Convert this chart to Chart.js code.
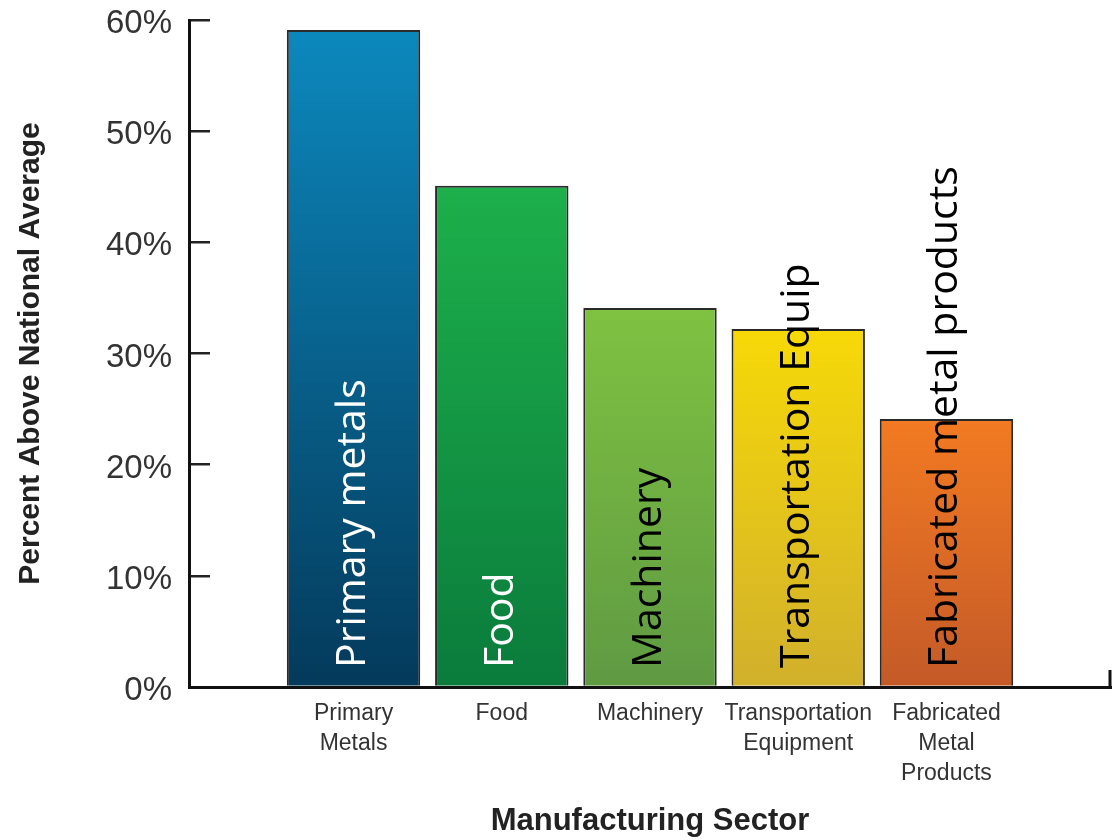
<!DOCTYPE html>
<html lang="en">
<head>
  <meta charset="UTF-8" />
  <title>Manufacturing Sector</title>
  <script src="https://cdn.jsdelivr.net/npm/chart.js"></script>
  <style>
    body {
      margin: 0;
      background: #fff;
    }
    canvas {
      display: block;
    }
  </style>
</head>
<body>

  <canvas id="sectorBar" width="1116" height="840"></canvas>

  <script>
    // data
    const sectors = [
      ['Primary', 'Metals'],
      ['Food'],
      ['Machinery'],
      ['Transportation', 'Equipment'],
      ['Fabricated', 'Metal', 'Products']
    ];
    const percentAbove = [59.1, 45.1, 34.1, 32.2, 24.1];
    const barLabels = ['Primary metals', 'Food', 'Machinery', 'Transportation Equip', 'Fabricated metal products'];
    const barLabelColors = ['#ffffff', '#ffffff', '#000000', '#000000', '#000000'];
    const topColors = ['#0c88bd', '#1db04b', '#7fc241', '#f7d908', '#f27a22'];
    const bottomColors = ['#043a5b', '#0a7b3c', '#5f9a43', '#d1b02c', '#c45a28'];
    const yTicks = [0, 10, 20, 30, 40, 50, 60];

    // vertical gradient per bar, from its top down to zero
    function barFill(ctx) {
      const chart = ctx.chart;
      const y = chart.scales.y;
      if (!y || !chart.chartArea) return topColors[ctx.dataIndex];
      const top = y.getPixelForValue(percentAbove[ctx.dataIndex]);
      const bottom = y.getPixelForValue(0);
      const g = chart.ctx.createLinearGradient(0, top, 0, bottom);
      g.addColorStop(0, topColors[ctx.dataIndex]);
      g.addColorStop(1, bottomColors[ctx.dataIndex]);
      return g;
    }

    // big rotated labels written over the bars
    const barText = {
      id: 'barText',
      afterDatasetsDraw(chart) {
        const c = chart.ctx;
        const meta = chart.getDatasetMeta(0);
        c.save();
        c.font = '41px "Open Sans", sans-serif';
        c.textAlign = 'left';
        c.textBaseline = 'alphabetic';
        meta.data.forEach((bar, i) => {
          c.save();
          c.translate(bar.x + 11, chart.chartArea.bottom - 19);
          c.rotate(-Math.PI / 2);
          c.fillStyle = barLabelColors[i];
          c.fillText(barLabels[i], 0, 0);
          c.restore();
        });
        c.restore();
      }
    };

    // small upward tick closing the x axis on the right
    const axisEnd = {
      id: 'axisEnd',
      afterDraw(chart) {
        const x = chart.scales.x;
        const c = chart.ctx;
        c.save();
        c.strokeStyle = '#111';
        c.lineWidth = 3;
        c.beginPath();
        c.moveTo(x.right - 1, x.top);
        c.lineTo(x.right - 1, x.top - 17);
        c.stroke();
        c.restore();
      }
    };

    new Chart(document.getElementById('sectorBar'), {
      type: 'bar',
      data: {
        datasets: [{
          data: percentAbove.map((v, i) => ({ x: i + 1, y: v })),
          backgroundColor: barFill,
          borderColor: '#2a2a2a',
          borderWidth: 2,
          categoryPercentage: 0.9,
          barPercentage: 1
        }]
      },
      plugins: [barText, axisEnd],
      options: {
        responsive: false,
        animation: false,
        layout: { padding: { top: 20, right: 5, left: 0, bottom: 0 } },
        plugins: {
          legend: { display: false },
          tooltip: { enabled: false }
        },
        scales: {
          x: {
            type: 'linear',
            offset: false,
            min: 1 - 1.11,
            max: sectors.length + 1.11,
            afterFit(scale) {
              scale.height = 153;
              scale.paddingLeft = 0;
              scale.paddingRight = 0;
            },
            grid: { display: false, drawTicks: false, offset: false },
            border: { display: true, color: '#111', width: 3 },
            ticks: {
              stepSize: 1,
              includeBounds: false,
              autoSkip: false,
              maxRotation: 0,
              padding: 12,
              color: '#333',
              font: { family: '"Liberation Sans", Arial, sans-serif', size: 23, lineHeight: 1.3 },
              callback: v => (Number.isInteger(v) && sectors[v - 1]) ? sectors[v - 1] : ''
            },
            title: {
              display: true,
              text: 'Manufacturing Sector',
              color: '#222',
              padding: { top: 0, bottom: 0 },
              font: { family: '"Liberation Sans", Arial, sans-serif', size: 31, weight: 'bold', lineHeight: 1.2 }
            }
          },
          y: {
            min: yTicks[0],
            max: yTicks[yTicks.length - 1],
            afterFit(scale) {
              scale.width = 189;
              scale.paddingTop = 0;
              scale.paddingBottom = 0;
            },
            afterBuildTicks(scale) { scale.ticks = yTicks.map(v => ({ value: v })); },
            grid: {
              drawOnChartArea: false,
              drawTicks: true,
              tickLength: -21,
              color: '#222',
              lineWidth: 2.5
            },
            border: { display: true, color: '#111', width: 3 },
            ticks: {
              padding: 38,
              labelOffset: 4,
              color: '#333',
              font: { family: '"Liberation Sans", Arial, sans-serif', size: 33 },
              callback: v => v + '%'
            },
            title: {
              display: true,
              text: 'Percent Above National Average',
              color: '#222',
              padding: { top: 13, bottom: 0 },
              font: { family: '"Liberation Sans", Arial, sans-serif', size: 30, weight: 'bold', lineHeight: 1.2 }
            }
          }
        }
      }
    });
  </script>

</body>
</html>
